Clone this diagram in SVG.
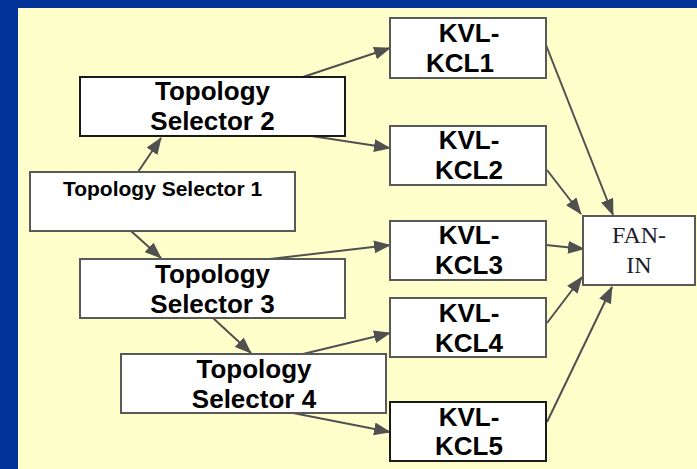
<svg xmlns="http://www.w3.org/2000/svg" width="697" height="469" viewBox="0 0 697 469">
  <style>
    .box { fill: #ffffff; stroke: #595959; stroke-width: 2; }
    .box.dark { stroke: #1a1a1a; }
    .lbl { font-family: "Liberation Sans", Arial, sans-serif; font-weight: bold; font-size: 26px; fill: #000000; text-anchor: middle; }
    .lbl.small { font-size: 21px; }
    .serif { font-family: "Liberation Serif", "Times New Roman", serif; font-size: 24px; fill: #1c1c30; text-anchor: middle; }
    .edge { stroke: #505050; stroke-width: 2; fill: none; marker-end: url(#arrow); }
  </style>
  <defs>
    <marker id="arrow" markerUnits="userSpaceOnUse" markerWidth="17" markerHeight="13" refX="16" refY="6.5" orient="auto">
      <path d="M0,0 L17,6.5 L0,13 z" fill="#505050"/>
    </marker>
  </defs>

  <!-- slide background and panel -->
  <rect x="0" y="0" width="697" height="469" fill="#023399"/>
  <rect x="18" y="8" width="679" height="461" fill="#ffffcc"/>

  <!-- connectors -->
  <g id="connectors">
    <line class="edge" x1="138" y1="172" x2="161" y2="138"/>
    <line class="edge" x1="131" y1="231" x2="161" y2="258"/>
    <line class="edge" x1="213" y1="318" x2="251" y2="353"/>
    <line class="edge" x1="303" y1="77" x2="390" y2="48"/>
    <line class="edge" x1="305" y1="135" x2="390" y2="148"/>
    <line class="edge" x1="270" y1="259" x2="390" y2="245"/>
    <line class="edge" x1="303" y1="354" x2="390" y2="333"/>
    <line class="edge" x1="293" y1="413" x2="390" y2="432"/>
    <line class="edge" x1="546" y1="45" x2="613" y2="215"/>
    <line class="edge" x1="547" y1="170" x2="581" y2="214"/>
    <line class="edge" x1="546" y1="245" x2="584" y2="249"/>
    <line class="edge" x1="547" y1="323" x2="582" y2="277"/>
    <line class="edge" x1="547" y1="422" x2="612" y2="287"/>
  </g>

  <g id="ts1">
    <rect class="box" x="30" y="172" width="265" height="59"/>
    <text class="lbl small" x="162.5" y="196">Topology Selector 1</text>
  </g>
  <g id="ts2">
    <rect class="box dark" x="80" y="77" width="265" height="59"/>
    <text class="lbl" x="212.5" y="100">Topology</text>
    <text class="lbl" x="212.5" y="130">Selector 2</text>
  </g>
  <g id="ts3">
    <rect class="box" x="80" y="259" width="265" height="59"/>
    <text class="lbl" x="212.5" y="283">Topology</text>
    <text class="lbl" x="212.5" y="313">Selector 3</text>
  </g>
  <g id="ts4">
    <rect class="box" x="121" y="354" width="265" height="59"/>
    <text class="lbl" x="254" y="378">Topology</text>
    <text class="lbl" x="254" y="408">Selector 4</text>
  </g>

  <g id="kvl1">
    <rect class="box" x="390" y="18" width="156" height="60"/>
    <text class="lbl" x="469" y="42">KVL-</text>
    <text class="lbl" x="460" y="72">KCL1</text>
  </g>
  <g id="kvl2">
    <rect class="box" x="390" y="126" width="156" height="59"/>
    <text class="lbl" x="469" y="149">KVL-</text>
    <text class="lbl" x="469" y="179">KCL2</text>
  </g>
  <g id="kvl3">
    <rect class="box" x="390" y="221" width="156" height="59"/>
    <text class="lbl" x="469" y="244">KVL-</text>
    <text class="lbl" x="469" y="274">KCL3</text>
  </g>
  <g id="kvl4">
    <rect class="box" x="390" y="298" width="156" height="59"/>
    <text class="lbl" x="469" y="322">KVL-</text>
    <text class="lbl" x="469" y="352">KCL4</text>
  </g>
  <g id="kvl5">
    <rect class="box dark" x="390" y="402" width="156" height="59"/>
    <text class="lbl" x="469" y="426">KVL-</text>
    <text class="lbl" x="469" y="455">KCL5</text>
  </g>

  <g id="fanin">
    <rect class="box" x="583" y="216" width="112" height="69"/>
    <text class="serif" x="639" y="243">FAN-</text>
    <text class="serif" x="639" y="273">IN</text>
  </g>
</svg>
